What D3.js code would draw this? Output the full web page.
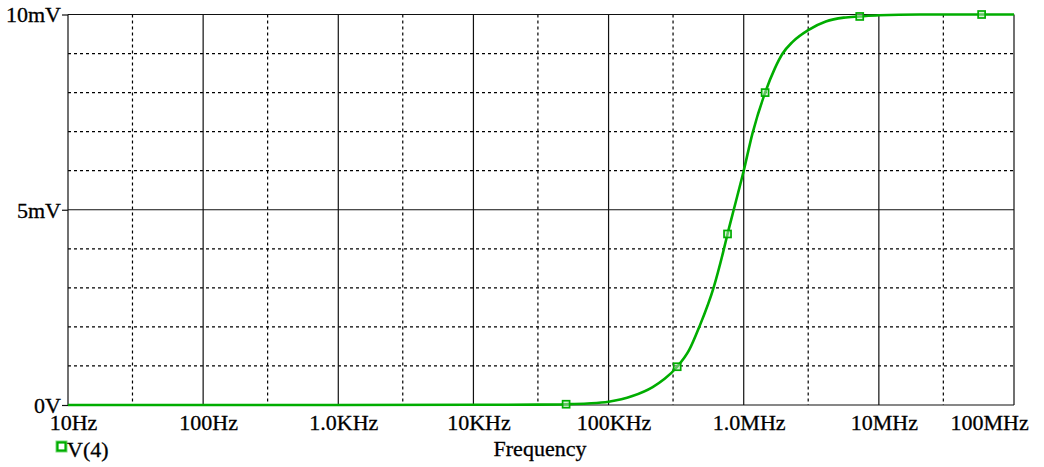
<!DOCTYPE html>
<html>
<head>
<meta charset="utf-8">
<script src="https://cdn.jsdelivr.net/npm/d3@7/dist/d3.min.js"></script>
<style>
  html, body { margin: 0; padding: 0; background: #fff; }
  svg { display: block; }
  text { font-family: "Liberation Serif", "Times New Roman", serif; fill: #000; }
</style>
</head>
<body>
<svg id="chart" width="1044" height="467"></svg>
<script>
// Frequency sweep of V(4): frequency in Hz, amplitude in mV
const freqHz = [10, 1e3, 1e4, 3e4, 4.85e4, 7e4, 1e5, 1.5e5, 2.12e5, 2.6e5, 3.22e5, 3.95e5,
                4.69e5, 5.98e5, 7.05e5, 7.59e5, 8.51e5, 1e6, 1.16e6, 1.44e6, 1.7e6, 1.94e6,
                2.3e6, 3e6, 4.05e6, 5.5e6, 7.22e6, 1e7, 2e7, 1e8];
const voltMV = [0, 0, 0.005, 0.01, 0.02, 0.04, 0.085, 0.23, 0.46, 0.67, 0.98, 1.41,
                2.0, 3.0, 3.92, 4.38, 5.05, 6.0, 6.95, 8.0, 8.62, 9.0,
                9.3, 9.6, 9.82, 9.92, 9.95, 9.98, 10, 10];

// Trace symbols placed along the curve
const markerHz = [4.85e4, 3.22e5, 7.59e5, 1.44e6, 7.22e6, 5.76e7];
const markerMV = [0.02, 0.98, 4.38, 8.0, 9.95, 10];

// Axis ticks
const xMajor = [10, 1e2, 1e3, 1e4, 1e5, 1e6, 1e7, 1e8];
const xLabels = ["10Hz", "100Hz", "1.0KHz", "10KHz", "100KHz", "1.0MHz", "10MHz", "100MHz"];
const xMinor = [30, 3e2, 3e3, 3e4, 3e5, 3e6, 3e7];
const yMajor = [0, 5, 10];
const yLabels = ["0V", "5mV", "10mV"];
const yMinor = [1, 2, 3, 4, 6, 7, 8, 9];

const traceName = "V(4)";
const xTitle = "Frequency";

const W = 1044, H = 467;
const plot = { left: 68, right: 1014, top: 14.5, bottom: 405 };
const green = "#00ad00";

const svg = d3.select("#chart");
const x = d3.scaleLog().domain([10, 1e8]).range([plot.left, plot.right]);
const y = d3.scaleLinear().domain([0, 10]).range([plot.bottom, plot.top]);

// Grid: dotted minor lines
const grid = svg.append("g");
grid.selectAll(".vminor").data(xMinor).join("line")
  .attr("x1", d => x(d)).attr("x2", d => x(d))
  .attr("y1", plot.top).attr("y2", plot.bottom)
  .attr("stroke", "#000").attr("stroke-width", 1.2).attr("stroke-dasharray", "3,3");
grid.selectAll(".hminor").data(yMinor).join("line")
  .attr("x1", plot.left).attr("x2", plot.right)
  .attr("y1", d => y(d)).attr("y2", d => y(d))
  .attr("stroke", "#000").attr("stroke-width", 1.2).attr("stroke-dasharray", "3,3");

// Grid: solid major lines
grid.selectAll(".vmajor").data(xMajor).join("line")
  .attr("x1", d => x(d)).attr("x2", d => x(d))
  .attr("y1", plot.top).attr("y2", plot.bottom)
  .attr("stroke", "#111").attr("stroke-width", 1.2);
grid.selectAll(".hmajor").data(yMajor).join("line")
  .attr("x1", plot.left).attr("x2", plot.right)
  .attr("y1", d => y(d)).attr("y2", d => y(d))
  .attr("stroke", "#111").attr("stroke-width", 1.2);

const labelStyle = sel => sel.attr("font-size", 22).attr("font-family", "Liberation Serif")
  .attr("stroke", "#000").attr("stroke-width", 0.3);

// Y axis with short ticks and labels
const yAxis = svg.append("g")
  .attr("transform", `translate(${plot.left},0)`)
  .call(d3.axisLeft(y).tickValues(yMajor)
    .tickFormat(d => yLabels[yMajor.indexOf(d)]).tickSize(6).tickPadding(1));
yAxis.select(".domain").remove();
yAxis.selectAll(".tick line").attr("stroke", "#111").attr("stroke-width", 1.2);
yAxis.selectAll("text").call(labelStyle).attr("dy", "0.33em");

// X axis labels
const xAxis = svg.append("g")
  .attr("transform", `translate(0,${plot.bottom})`)
  .call(d3.axisBottom(x).tickValues(xMajor)
    .tickFormat(d => xLabels[xMajor.indexOf(d)]).tickSize(0).tickPadding(0));
xAxis.select(".domain").remove();
xAxis.selectAll("text").call(labelStyle).attr("dy", 25).attr("dx", 5);
// keep the last label inside the canvas
xAxis.selectAll("text").each(function () {
  const b = this.getBBox();
  const t = d3.select(this.parentNode).attr("transform");
  const tx = +/translate\(([^,]+)/.exec(t)[1];
  const over = tx + b.x + b.width + 5 - (W - 10);
  if (over > 0) d3.select(this).attr("dx", 5 - over);
});

// Trace
const pts = freqHz.map((f, i) => [f, voltMV[i]]);
const line = d3.line().x(d => x(d[0])).y(d => y(d[1])).curve(d3.curveMonotoneX);
svg.append("path").datum(pts)
  .attr("d", line).attr("fill", "none")
  .attr("stroke", green).attr("stroke-width", 2.6).attr("stroke-linejoin", "round");

// Trace symbols
const ms = 7;
svg.selectAll(".mk").data(markerHz.map((f, i) => [f, markerMV[i]])).join("rect")
  .attr("x", d => x(d[0]) - ms / 2).attr("y", d => y(d[1]) - ms / 2)
  .attr("width", ms).attr("height", ms)
  .attr("fill", "#b8e6b8").attr("fill-opacity", 0.5)
  .attr("stroke", green).attr("stroke-width", 1.7);

// Legend
svg.append("rect").attr("x", 57.5).attr("y", 442.5).attr("width", 8).attr("height", 8)
  .attr("fill", "#fff").attr("stroke", "#7fdc7f").attr("stroke-width", 4);
svg.append("rect").attr("x", 57.5).attr("y", 442.5).attr("width", 8).attr("height", 8)
  .attr("fill", "#fff").attr("stroke", green).attr("stroke-width", 2.2);
svg.append("text").attr("x", 67).attr("y", 457).text(traceName).call(labelStyle);

// X axis title
svg.append("text").attr("x", 540).attr("y", 456).attr("text-anchor", "middle")
  .text(xTitle).call(labelStyle);
</script>
</body>
</html>
